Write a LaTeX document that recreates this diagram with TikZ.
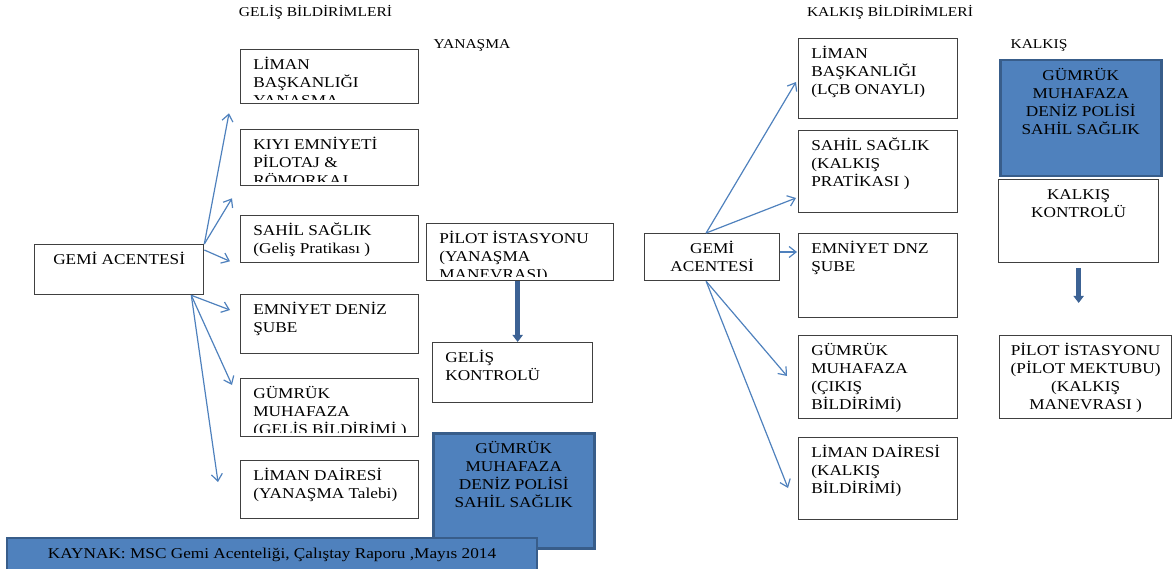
\documentclass[tikz,border=0pt]{standalone}
\usepackage{fontspec}
\setmainfont[FakeStretch=1.15]{Liberation Serif}
\usetikzlibrary{arrows.meta}
\definecolor{okmavi}{RGB}{79,129,189}
\definecolor{koyumavi}{RGB}{56,93,138}
\definecolor{kalinmavi}{RGB}{60,98,148}
\definecolor{kenar}{RGB}{64,64,64}
\newcommand{\kutuyazi}{\fontsize{15}{18}\selectfont}
\tikzset{
    kutu/.style={draw=kenar, line width=1.3pt, fill=white, anchor=north west,
    	inner sep=0pt},
    mavikutu/.style={draw=koyumavi, line width=2.5pt, fill=okmavi,
    	anchor=north west, inner sep=0pt},
    boyut/.style 2 args={minimum width=#1pt, minimum height=#2pt}
}
\tikzset{
    yazi/.style={inner sep=0pt, minimum width=0pt, minimum height=0pt,
    	draw=none, fill=none},
    baslik/.style={anchor=base, inner sep=0pt, font=\fontsize{13.5}{16}\selectfont}
}
\tikzset{
    sol/.style={path picture={
    	\clip ([yshift=4pt]path picture bounding box.south west) rectangle
    		(path picture bounding box.north east);
    	\node[yazi, anchor=base west] at
    		([xshift=12pt, yshift=-19.5pt]path picture bounding box.north west)
    		{\parbox[t]{170pt}{\raggedright\kutuyazi #1}};}},
    orta/.style={path picture={
    	\node[yazi, anchor=base] at ([yshift=-20pt]path picture bounding box.north)
    		{\parbox[t]{520pt}{\centering\kutuyazi #1}};}}
}
\tikzset{
    ok/.style={draw=okmavi, line width=1.2pt,
    	-{Straight Barb[length=7pt, width=11pt]}},
    kalin/.style={draw=kalinmavi, line width=5pt,
    	-{Triangle[length=7pt, width=10pt]}}
}

\begin{document}
\begin{tikzpicture}[x=1pt, y=-1pt]
	\useasboundingbox (0,0) rectangle (1173,569);

	% gelis tarafi
	\node[baslik] (gelisBaslik) at (315.5,17) {GELİŞ BİLDİRİMLERİ};
	\node[baslik] (yanasma) at (472,49) {YANAŞMA};
	\node (limanBaskL) [kutu, boyut={178}{54}, sol={LİMAN\\BAŞKANLIĞI\\YANAŞMA}] at (240,49) {};
	\node (kiyiL) [kutu, boyut={178}{56}, sol={KIYI EMNİYETİ\\PİLOTAJ \&\\RÖMORKAJ}] at (240,129) {};
	\node (sahilL) [kutu, boyut={178}{47}, sol={SAHİL SAĞLIK\\(Geliş Pratikası )}] at (240,215) {};
	\node (gemiL) [kutu, boyut={169}{50}, orta={GEMİ ACENTESİ}] at (34,244) {};
	\node (emniyetL) [kutu, boyut={178}{59}, sol={EMNİYET DENİZ\\ŞUBE}] at (240,294) {};
	\node (gumrukL) [kutu, boyut={178}{58}, sol={GÜMRÜK\\MUHAFAZA\\(GELİŞ BİLDİRİMİ )}] at (240,378) {};
	\node (limanDaireL) [kutu, boyut={178}{58}, sol={LİMAN DAİRESİ\\(YANAŞMA Talebi)}] at (240,460) {};
	\node (pilotL) [kutu, boyut={187}{57}, sol={PİLOT İSTASYONU\\(YANAŞMA\\MANEVRASI)}] at (426,223) {};
	\node (gelisKontrol) [kutu, boyut={160}{60}, sol={GELİŞ\\KONTROLÜ}] at (432,342) {};
	\node (polisL) [mavikutu, boyut={161}{115}, orta={GÜMRÜK\\MUHAFAZA\\DENİZ POLİSİ\\SAHİL SAĞLIK}] at (432,432) {};

	\draw[ok] (gemiL.north east) -- ([shift={(-11,9)}]limanBaskL.south west);
	\draw[ok] (gemiL.north east) -- ([shift={(-8,12)}]kiyiL.south west);
	\draw[ok] ([shift={(0,6)}]gemiL.north east) -- ([shift={(-10,-2)}]sahilL.south west);
	\draw[ok] ([shift={(-13,0)}]gemiL.south east) -- ([shift={(-10,16)}]emniyetL.north west);
	\draw[ok] ([shift={(-13,0)}]gemiL.south east) -- ([shift={(-8,7)}]gumrukL.north west);
	\draw[ok] ([shift={(-13,0)}]gemiL.south east) -- ([shift={(-22,22)}]limanDaireL.north west);
	\draw[kalin] ([xshift=-2.5pt]pilotL.south) -- ([xshift=-2.5pt]pilotL.south |- gelisKontrol.north);

	% kalkis tarafi
	\node[baslik] (kalkisBaslik) at (890,17) {KALKIŞ BİLDİRİMLERİ};
	\node[baslik] (kalkis) at (1039,49) {KALKIŞ};
	\node (limanBaskR) [kutu, boyut={159}{80}, sol={LİMAN\\BAŞKANLIĞI\\(LÇB ONAYLI)}] at (798,38) {};
	\node (sahilR) [kutu, boyut={159}{82}, sol={SAHİL SAĞLIK\\(KALKIŞ\\PRATİKASI )}] at (798,130) {};
	\node (gemiR) [kutu, boyut={135}{47}, orta={GEMİ\\ACENTESİ}] at (644,233) {};
	\node (emniyetR) [kutu, boyut={159}{84}, sol={EMNİYET DNZ\\ŞUBE}] at (798,233) {};
	\node (gumrukR) [kutu, boyut={159}{83}, sol={GÜMRÜK\\MUHAFAZA\\(ÇIKIŞ\\BİLDİRİMİ)}] at (798,335) {};
	\node (limanDaireR) [kutu, boyut={159}{82}, sol={LİMAN DAİRESİ\\(KALKIŞ\\BİLDİRİMİ)}] at (798,437) {};
	\node (polisR) [mavikutu, boyut={161}{116}, orta={GÜMRÜK\\MUHAFAZA\\DENİZ POLİSİ\\SAHİL SAĞLIK}] at (999,59) {};
	\node (kalkisKontrol) [kutu, boyut={160}{83}, orta={KALKIŞ\\KONTROLÜ}] at (998,179) {};
	\node (pilotR) [kutu, boyut={172}{83}, orta={PİLOT İSTASYONU\\(PİLOT MEKTUBU)\\(KALKIŞ\\MANEVRASI )}] at (999,335) {};

	\draw[ok] ([shift={(-6,0)}]gemiR.north) -- ([shift={(-2,44)}]limanBaskR.north west);
	\draw[ok] ([shift={(-6,0)}]gemiR.north) -- ([shift={(-2,68)}]sahilR.north west);
	\draw[ok] ([shift={(0,19)}]gemiR.north east) -- ([shift={(-1,19)}]emniyetR.north west);
	\draw[ok] ([shift={(-6,0)}]gemiR.south) -- ([shift={(-11,41)}]gumrukR.north west);
	\draw[ok] ([shift={(-6,0)}]gemiR.south) -- ([shift={(-10,51)}]limanDaireR.north west);
	\draw[kalin, shorten <=5pt, shorten >=32pt] (kalkisKontrol.south) -- (kalkisKontrol.south |- pilotR.north);

	% kaynak
	\node (kaynak) [mavikutu, line width=2pt, boyut={530}{48},
		orta={KAYNAK: MSC Gemi Acenteliği, Çalıştay Raporu ,Mayıs 2014}] at (6,537) {};
\end{tikzpicture}
\end{document}
